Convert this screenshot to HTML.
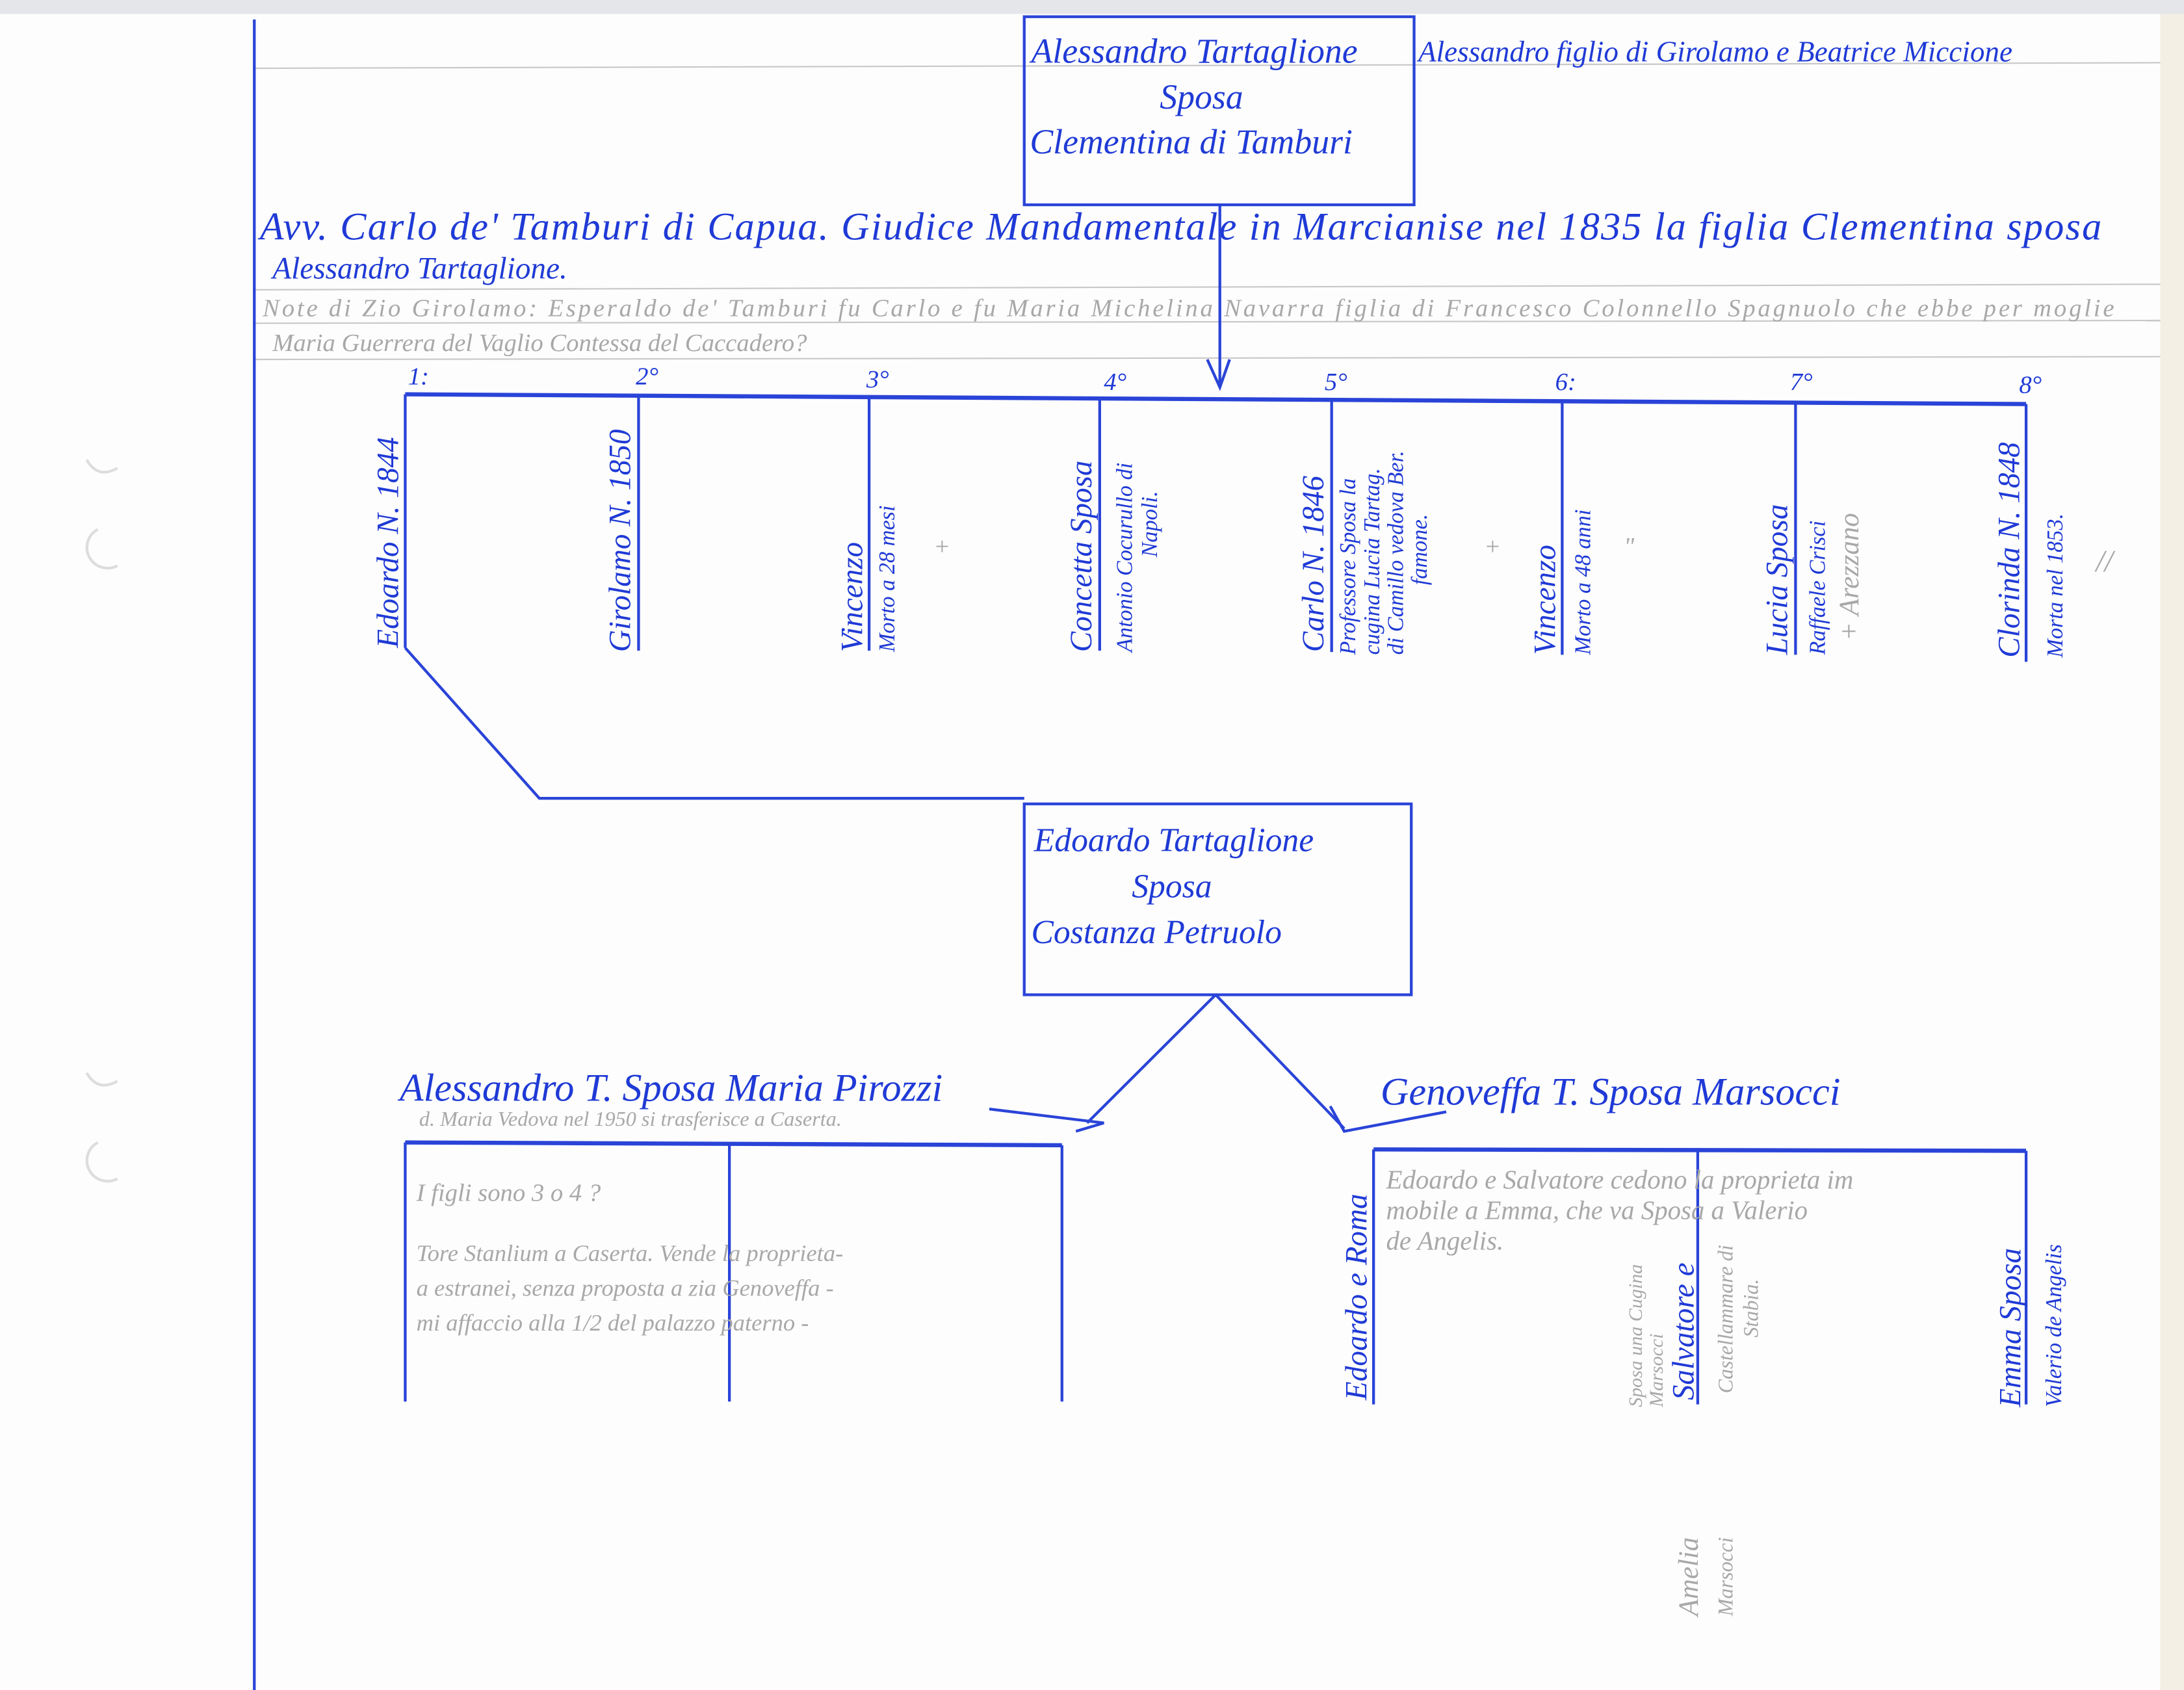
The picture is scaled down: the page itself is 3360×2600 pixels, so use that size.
<!DOCTYPE html>
<html><head><meta charset="utf-8"><style>
html,body{margin:0;padding:0;background:#fff;}
svg{display:block;}
.b{font-family:"Liberation Serif",serif;font-style:italic;fill:#1f3ad6;}
.g{font-family:"Liberation Serif",serif;font-style:italic;fill:#a8a8a8;}
</style></head><body>
<svg width="3360" height="2600" viewBox="0 0 1563 1213" preserveAspectRatio="none" xmlns="http://www.w3.org/2000/svg">
<rect width="1563" height="1213" fill="#fdfdfd"/>
<rect x="0" y="0" width="1563" height="10" fill="#e4e6ea"/>
<rect x="1546" y="10" width="17" height="1203" fill="#f4efe4"/>
<!-- ruled lines -->
<g stroke="#c8c8c8" stroke-width="1">
<line x1="183" y1="49" x2="1546" y2="45"/>
<line x1="183" y1="208" x2="1546" y2="204"/>
<line x1="183" y1="232" x2="1546" y2="230"/>
<line x1="183" y1="258" x2="1546" y2="256"/>
</g>
<!-- margin -->
<line x1="182" y1="14" x2="182" y2="1213" stroke="#2a44d8" stroke-width="2"/>
<!-- punch holes -->
<g fill="none" stroke="#ddd" stroke-width="2">
<path d="M62 330 q8 14 22 6"/><path d="M70 380 a14 14 0 1 0 14 26"/>
<path d="M62 770 q8 14 22 6"/><path d="M70 820 a14 14 0 1 0 14 26"/>
</g>
<g stroke="#2a44d8" fill="none" stroke-width="2">
<rect x="733" y="12" width="279" height="135"/>
<line x1="873" y1="147" x2="873" y2="275"/>
<path d="M864 258 L873 278 L880 258"/>
<line x1="290" y1="283" x2="1450" y2="290" stroke-width="3"/>
<line x1="290" y1="283" x2="290" y2="465"/>
<line x1="457" y1="284" x2="457" y2="467"/>
<line x1="622" y1="285" x2="622" y2="467"/>
<line x1="787" y1="286" x2="787" y2="467"/>
<line x1="953" y1="287" x2="953" y2="468"/>
<line x1="1118" y1="288" x2="1118" y2="470"/>
<line x1="1285" y1="289" x2="1285" y2="470"/>
<line x1="1450" y1="290" x2="1450" y2="475"/>
<path d="M290 465 L386 573 L733 573"/>
<rect x="733" y="577" width="277" height="137"/>
<line x1="870" y1="714" x2="778" y2="806"/>
<path d="M708 796 L790 806 L770 812"/>
<line x1="870" y1="714" x2="962" y2="810"/>
<path d="M952 794 L962 812 L1035 798"/>
<line x1="290" y1="820" x2="760" y2="822" stroke-width="3"/>
<line x1="290" y1="820" x2="290" y2="1006"/>
<line x1="522" y1="821" x2="522" y2="1006"/>
<line x1="760" y1="822" x2="760" y2="1006"/>
<line x1="983" y1="825" x2="1450" y2="826" stroke-width="3"/>
<line x1="983" y1="825" x2="983" y2="1008"/>
<line x1="1215" y1="826" x2="1215" y2="1008"/>
<line x1="1450" y1="826" x2="1450" y2="1008"/>
</g>
<g class="b">
<text x="738" y="45" font-size="25">Alessandro Tartaglione</text>
<text x="830" y="78" font-size="25">Sposa</text>
<text x="737" y="110" font-size="25">Clementina di Tamburi</text>
<text x="1015" y="44" font-size="21">Alessandro figlio di Girolamo e Beatrice Miccione</text>
<text x="186" y="172" font-size="28" textLength="1318">Avv. Carlo de' Tamburi di Capua. Giudice Mandamentale in Marcianise nel 1835 la figlia Clementina sposa</text>
<text x="195" y="200" font-size="22">Alessandro Tartaglione.</text>
<text x="292" y="276" font-size="18">1:</text><text x="455" y="276" font-size="18">2°</text><text x="620" y="278" font-size="18">3°</text><text x="790" y="280" font-size="18">4°</text><text x="948" y="280" font-size="18">5°</text><text x="1113" y="280" font-size="18">6:</text><text x="1281" y="280" font-size="18">7°</text><text x="1445" y="282" font-size="18">8°</text>
<g font-size="22">
<text transform="translate(285,465) rotate(-90)">Edoardo N. 1844</text>
<text transform="translate(451,468) rotate(-90)">Girolamo N. 1850</text>
<text transform="translate(617,468) rotate(-90)">Vincenzo</text>
<text transform="translate(781,468) rotate(-90)">Concetta Sposa</text>
<text transform="translate(947,468) rotate(-90)">Carlo N. 1846</text>
<text transform="translate(1113,470) rotate(-90)">Vincenzo</text>
<text transform="translate(1279,470) rotate(-90)">Lucia Sposa</text>
<text transform="translate(1445,472) rotate(-90)">Clorinda N. 1848</text>
</g>
<g font-size="16">
<text transform="translate(640,468) rotate(-90)">Morto a 28 mesi</text>
<text transform="translate(810,468) rotate(-90)">Antonio Cocurullo di</text>
<text transform="translate(828,400) rotate(-90)">Napoli.</text>
<text transform="translate(970,470) rotate(-90)">Professore Sposa la</text>
<text transform="translate(987,470) rotate(-90)">cugina Lucia Tartag.</text>
<text transform="translate(1004,470) rotate(-90)">di Camillo vedova Ber.</text>
<text transform="translate(1021,420) rotate(-90)">famone.</text>
<text transform="translate(1138,470) rotate(-90)">Morto a 48 anni</text>
<text transform="translate(1306,470) rotate(-90)">Raffaele Crisci</text>
<text transform="translate(1476,472) rotate(-90)">Morta nel 1853.</text>
</g>
<text x="740" y="611" font-size="24">Edoardo Tartaglione</text>
<text x="810" y="644" font-size="24">Sposa</text>
<text x="738" y="677" font-size="24">Costanza Petruolo</text>
<text x="286" y="790" font-size="28">Alessandro T. Sposa Maria Pirozzi</text>
<text x="988" y="793" font-size="28">Genoveffa T. Sposa Marsocci</text>
<text transform="translate(978,1005) rotate(-90)" font-size="22">Edoardo e Roma</text>
<text transform="translate(1212,1005) rotate(-90)" font-size="22">Salvatore e</text>
<text transform="translate(1446,1010) rotate(-90)" font-size="22">Emma Sposa</text>
<text transform="translate(1475,1010) rotate(-90)" font-size="16">Valerio de Angelis</text>
</g>
<g class="g">
<text x="188" y="227" font-size="18" textLength="1325">Note di Zio Girolamo: Esperaldo de' Tamburi fu Carlo e fu Maria Michelina Navarra figlia di Francesco Colonnello Spagnuolo che ebbe per moglie</text>
<text x="195" y="252" font-size="18">Maria Guerrera del Vaglio Contessa del Caccadero?</text>
<text x="300" y="808" font-size="15">d. Maria Vedova nel 1950 si trasferisce a Caserta.</text>
<text x="298" y="862" font-size="18">I figli sono 3 o 4 ?</text>
<text x="298" y="905" font-size="17">Tore Stanlium a Caserta. Vende la proprieta-</text>
<text x="298" y="930" font-size="17">a estranei, senza proposta a zia Genoveffa -</text>
<text x="298" y="955" font-size="17">mi affaccio alla 1/2 del palazzo paterno -</text>
<text x="992" y="853" font-size="19">Edoardo e Salvatore cedono la proprieta im</text>
<text x="992" y="875" font-size="19">mobile a Emma, che va Sposa a Valerio</text>
<text x="992" y="897" font-size="19">de Angelis.</text>
<text transform="translate(1175,1010) rotate(-90)" font-size="14">Sposa una Cugina</text>
<text transform="translate(1190,1010) rotate(-90)" font-size="14">Marsocci</text>
<text transform="translate(1240,1000) rotate(-90)" font-size="15">Castellammare di</text>
<text transform="translate(1258,960) rotate(-90)" font-size="15">Stabia.</text>
<text transform="translate(1215,1160) rotate(-90)" font-size="20">Amelia</text>
<text transform="translate(1240,1160) rotate(-90)" font-size="15">Marsocci</text>
<text x="668" y="398" font-size="18">+</text><text x="1062" y="398" font-size="18">+</text>
<text x="1162" y="398" font-size="18">"</text><text x="1500" y="410" font-size="22">//</text>
<text transform="translate(1330,460) rotate(-90)" font-size="20">+ Arezzano</text>
</g>
</svg>
</body></html>
